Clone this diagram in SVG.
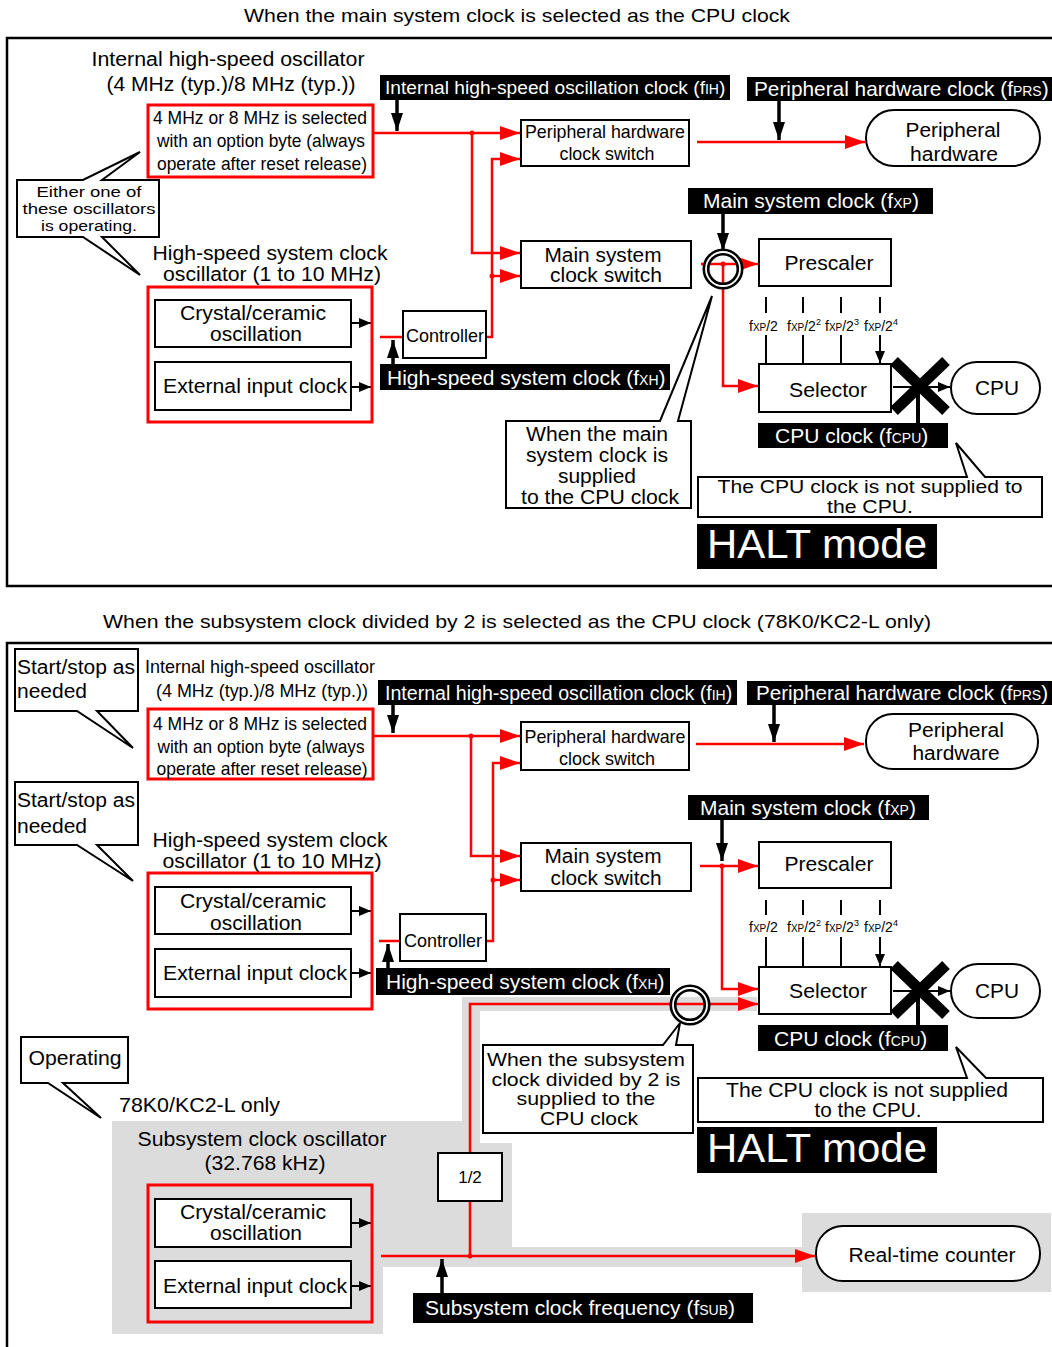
<svg xmlns="http://www.w3.org/2000/svg" width="1052" height="1347" viewBox="0 0 1052 1347">
<style>
text{font-family:"Liberation Sans",Arial,Helvetica,sans-serif;fill:#000}
.m{text-anchor:middle}
.f20{font-size:20px}
.f19{font-size:19px}
.f16{font-size:15.5px}
.w{fill:#fff}
.frame{fill:none;stroke:#000;stroke-width:2.5}
.box{fill:#fff;stroke:#000;stroke-width:2}
.rbox{fill:none;stroke:#f00;stroke-width:3}
.tag{fill:#000}
.wire{fill:none;stroke:#f00;stroke-width:2.5}
.arr{marker-end:url(#ra)}
.kline{fill:none;stroke:#000;stroke-width:3.5;marker-end:url(#ka)}
.sline{fill:none;stroke:#000;stroke-width:2;marker-end:url(#sa)}
.tick{stroke:#000;stroke-width:2}
.call{fill:#fff;stroke:#000;stroke-width:2}
.dot{fill:#f00}
.ring{fill:none;stroke:#000;stroke-width:7}
.gap{fill:none;stroke:#fff;stroke-width:1.8}
.cross{stroke:#000;stroke-width:11}
.gray{fill:#dcdcdc}
.sub{font-size:14px}
.fx{font-size:14px}
.fxs{font-size:10px}
.sup{font-size:9px}
</style>
<defs>
<marker id="ra" markerUnits="userSpaceOnUse" markerWidth="20" markerHeight="14" refX="20" refY="7" orient="auto"><path d="M0,0 L20,7 L0,14 Z" fill="#f00"/></marker>
<marker id="ka" markerUnits="userSpaceOnUse" markerWidth="18" markerHeight="12" refX="18" refY="6" orient="auto"><path d="M0,0 L18,6 L0,12 Z" fill="#000"/></marker>
<marker id="sa" markerUnits="userSpaceOnUse" markerWidth="12" markerHeight="10" refX="12" refY="5" orient="auto"><path d="M0,0 L12,5 L0,10 Z" fill="#000"/></marker>
</defs>

<!-- shaded subsystem clock path -->
<path class="gray" d="M112,1121 H462 V997 H757 V1011 H480 V1143 H512 V1247 H802 V1213 H1051 V1292 H802 V1267 H383 V1334 H112 Z"/>

<!-- panel frames and titles -->
<g id="panel-main">
<path class="frame" d="M1056,38 H7 V586 H1056"/>
<text class="m f19" x="517" y="22" textLength="546" lengthAdjust="spacingAndGlyphs">When the main system clock is selected as the CPU clock</text>
</g>
<g id="panel-sub">
<path class="frame" d="M1056,643 H7 V1350"/>
<text class="m f19" x="517" y="628" textLength="828" lengthAdjust="spacingAndGlyphs">When the subsystem clock divided by 2 is selected as the CPU clock (78K0/KC2-L only)</text>
</g>

<g id="connectors">
<!-- main panel -->
<path class="wire arr" d="M373,133 H520"/>
<path class="wire arr" d="M472,133 V253 H520"/>
<path class="wire arr" d="M486,337 H492 V159 H520"/>
<path class="wire arr" d="M492,276 H520"/>
<path class="wire" d="M380,337 H403"/>
<path class="wire arr" d="M697,142 H865"/>
<path class="wire arr" d="M701,264 H758"/>
<path class="wire arr" d="M723,264 V386 H758"/>
<circle class="dot" cx="472" cy="133" r="2.5"/>
<circle class="dot" cx="492" cy="276" r="2.5"/>
<circle class="dot" cx="723" cy="264" r="2.5"/>
<path class="kline" d="M397,100 V131"/>
<path class="kline" d="M779,101 V140"/>
<path class="kline" d="M723,214 V251"/>
<path class="kline" d="M393,364 V340"/>
<path class="sline" d="M351,323 H371"/>
<path class="sline" d="M351,387 H371"/>
<path class="tick" d="M766,297 V313 M803,297 V313 M841,297 V313 M880,297 V313"/>
<path class="sline" d="M766,335 V363 M803,335 V363 M841,335 V363 M880,335 V363"/>
<path class="sline" d="M893,387 H950"/>
<path stroke="#000" stroke-width="4" d="M918,423 V387"/>
<circle class="ring" cx="723" cy="269" r="17"/>
<circle class="gap" cx="723" cy="269" r="17"/>
<path class="cross" d="M894,361 L946,411 M946,361 L894,411"/>

<!-- subsystem panel -->
<path class="wire arr" d="M373,736 H520"/>
<path class="wire arr" d="M471,736 V856 H520"/>
<path class="wire arr" d="M486,941 H493 V763 H520"/>
<path class="wire arr" d="M493,880 H520"/>
<path class="wire" d="M379,941 H400"/>
<path class="wire arr" d="M696,744 H864"/>
<path class="wire arr" d="M700,866 H758"/>
<path class="wire arr" d="M722,866 V989 H758"/>
<path class="wire arr" d="M470,1256 V1004 H758"/>
<path class="wire arr" d="M381,1256 H815"/>
<circle class="dot" cx="471" cy="736" r="2.5"/>
<circle class="dot" cx="493" cy="880" r="2.5"/>
<circle class="dot" cx="722" cy="866" r="2.5"/>
<circle class="dot" cx="470" cy="1256" r="2.5"/>
<path class="kline" d="M393,705 V733"/>
<path class="kline" d="M774,705 V742"/>
<path class="kline" d="M722,820 V861"/>
<path class="kline" d="M388,968 V944"/>
<path class="kline" d="M442,1293 V1259"/>
<path class="sline" d="M351,911 H371"/>
<path class="sline" d="M351,973 H371"/>
<path class="sline" d="M351,1223 H371"/>
<path class="sline" d="M351,1286 H371"/>
<path class="tick" d="M766,900 V915 M803,900 V915 M841,900 V915 M880,900 V915"/>
<path class="sline" d="M766,937 V966 M803,937 V966 M841,937 V966 M880,937 V966"/>
<path class="sline" d="M893,991 H950"/>
<path stroke="#000" stroke-width="4" d="M918,1026 V991"/>
<circle class="ring" cx="690" cy="1005" r="17"/>
<circle class="gap" cx="690" cy="1005" r="17"/>
<path class="cross" d="M894,965 L946,1015 M946,965 L894,1015"/>
</g>

<!-- ===== main system clock panel ===== -->
<g id="ih-osc-main">
<text class="m f20" x="228" y="66" textLength="273" lengthAdjust="spacingAndGlyphs">Internal high-speed oscillator</text>
<text class="m f20" x="231" y="91" textLength="249" lengthAdjust="spacingAndGlyphs">(4 MHz (typ.)/8 MHz (typ.))</text>
<rect class="rbox" x="148" y="105" width="225" height="72"/>
<text class="m f19" x="260" y="124" textLength="214" lengthAdjust="spacingAndGlyphs">4 MHz or 8 MHz is selected</text>
<text class="m f19" x="261" y="147" textLength="208" lengthAdjust="spacingAndGlyphs">with an option byte (always</text>
<text class="m f19" x="262" y="170" textLength="210" lengthAdjust="spacingAndGlyphs">operate after reset release)</text>
</g>
<g id="note-either">
<path class="call" d="M17,180 H83 L140,152 L102,180 H159 V237 H102 L140,275 L83,237 H17 Z"/>
<text class="m f16" x="89" y="197" textLength="105" lengthAdjust="spacingAndGlyphs">Either one of</text>
<text class="m f16" x="89" y="214" textLength="133" lengthAdjust="spacingAndGlyphs">these oscillators</text>
<text class="m f16" x="89" y="231" textLength="96" lengthAdjust="spacingAndGlyphs">is operating.</text>
</g>
<g id="hs-osc-main">
<text class="m f20" x="270" y="260" textLength="235" lengthAdjust="spacingAndGlyphs">High-speed system clock</text>
<text class="m f20" x="272" y="281" textLength="218" lengthAdjust="spacingAndGlyphs">oscillator (1 to 10 MHz)</text>
<rect class="rbox" x="148" y="287" width="224" height="135"/>
<rect class="box" x="155" y="300" width="196" height="47"/>
<text class="m f20" x="253" y="320" textLength="146" lengthAdjust="spacingAndGlyphs">Crystal/ceramic</text>
<text class="m f20" x="256" y="341" textLength="92" lengthAdjust="spacingAndGlyphs">oscillation</text>
<rect class="box" x="155" y="362" width="196" height="48"/>
<text class="m f20" x="255" y="393" textLength="184" lengthAdjust="spacingAndGlyphs">External input clock</text>
</g>
<g id="controller-main">
<rect class="box" x="403" y="311" width="83" height="47"/>
<text class="m f19" x="445" y="342" textLength="78" lengthAdjust="spacingAndGlyphs">Controller</text>
</g>
<g id="tag-fxh-main">
<rect class="tag" x="380" y="364" width="290" height="26"/>
<text class="w" font-size="21" x="387" y="385">High-speed system clock (f<tspan class="sub">XH</tspan>)</text>
</g>
<g id="tag-fih-main">
<rect class="tag" x="380" y="75" width="350" height="25"/>
<text class="w" font-size="19.2" x="385" y="94">Internal high-speed oscillation clock (f<tspan class="sub">IH</tspan>)</text>
</g>
<g id="phcs-main">
<rect class="box" x="521" y="120" width="168" height="46"/>
<text class="m f19" x="605" y="138" textLength="160" lengthAdjust="spacingAndGlyphs">Peripheral hardware</text>
<text class="m f19" x="607" y="160" textLength="95" lengthAdjust="spacingAndGlyphs">clock switch</text>
</g>
<g id="mscs-main">
<rect class="box" x="521" y="241" width="170" height="47"/>
<text class="m f20" x="603" y="262" textLength="117" lengthAdjust="spacingAndGlyphs">Main system</text>
<text class="m f20" x="606" y="282" textLength="112" lengthAdjust="spacingAndGlyphs">clock switch</text>
</g>
<g id="tag-fprs-main">
<rect class="tag" x="747" y="77" width="310" height="24"/>
<text class="w" font-size="20.8" x="754" y="96">Peripheral hardware clock (f<tspan class="sub">PRS</tspan>)</text>
</g>
<g id="periph-main">
<rect class="box" x="866" y="110" width="174" height="56" rx="28"/>
<text class="m f20" x="953" y="137" textLength="95" lengthAdjust="spacingAndGlyphs">Peripheral</text>
<text class="m f20" x="954" y="161" textLength="88" lengthAdjust="spacingAndGlyphs">hardware</text>
</g>
<g id="tag-fxp-main">
<rect class="tag" x="688" y="188" width="245" height="26"/>
<text class="w" font-size="21" x="703" y="208">Main system clock (f<tspan class="sub">XP</tspan>)</text>
</g>
<g id="prescaler-main">
<rect class="box" x="759" y="239" width="132" height="47"/>
<text class="m f20" x="829" y="270" textLength="89" lengthAdjust="spacingAndGlyphs">Prescaler</text>
<text class="fx" x="749" y="331">f<tspan class="fxs">XP</tspan>/2</text>
<text class="fx" x="787" y="331">f<tspan class="fxs">XP</tspan>/2<tspan class="sup" dy="-6">2</tspan></text>
<text class="fx" x="825" y="331">f<tspan class="fxs">XP</tspan>/2<tspan class="sup" dy="-6">3</tspan></text>
<text class="fx" x="864" y="331">f<tspan class="fxs">XP</tspan>/2<tspan class="sup" dy="-6">4</tspan></text>
</g>
<g id="selector-main">
<rect class="box" x="759" y="364" width="132" height="48"/>
<text class="m f20" x="828" y="397" textLength="78" lengthAdjust="spacingAndGlyphs">Selector</text>
</g>
<g id="cpu-main">
<rect class="box" x="951" y="362" width="89" height="52" rx="26"/>
<text class="m f20" x="997" y="395" textLength="44" lengthAdjust="spacingAndGlyphs">CPU</text>
</g>
<g id="tag-fcpu-main">
<rect class="tag" x="758" y="423" width="190" height="25"/>
<text class="w" font-size="21" x="775" y="443">CPU clock (f<tspan class="sub">CPU</tspan>)</text>
</g>
<g id="note-cpu-main">
<path class="call" d="M698,477 H967 L956,443 L985,477 H1042 V517 H698 Z"/>
<text class="m f19" x="870" y="493" textLength="305" lengthAdjust="spacingAndGlyphs">The CPU clock is not supplied to</text>
<text class="m f19" x="870" y="513" textLength="86" lengthAdjust="spacingAndGlyphs">the CPU.</text>
</g>
<g id="halt-main">
<rect class="tag" x="697" y="524" width="240" height="45"/>
<text class="w" font-size="41" x="707" y="558" textLength="220" lengthAdjust="spacingAndGlyphs">HALT mode</text>
</g>
<g id="note-main-clock">
<path class="call" d="M506,421 H660 L712,296 L678,421 H691 V508 H506 Z"/>
<text class="m f20" x="597" y="441" textLength="142" lengthAdjust="spacingAndGlyphs">When the main</text>
<text class="m f20" x="597" y="462" textLength="142" lengthAdjust="spacingAndGlyphs">system clock is</text>
<text class="m f20" x="597" y="483" textLength="78" lengthAdjust="spacingAndGlyphs">supplied</text>
<text class="m f20" x="600" y="504" textLength="158" lengthAdjust="spacingAndGlyphs">to the CPU clock</text>
</g>

<!-- ===== subsystem clock panel ===== -->
<g id="note-startstop-1">
<path class="call" d="M15,649 H138 V711 H97 L133,748 L77,711 H15 Z"/>
<text class="f20" x="17" y="674" textLength="118" lengthAdjust="spacingAndGlyphs">Start/stop as</text>
<text class="f20" x="17" y="698" textLength="70" lengthAdjust="spacingAndGlyphs">needed</text>
</g>
<g id="note-startstop-2">
<path class="call" d="M15,782 H138 V845 H97 L133,881 L77,845 H15 Z"/>
<text class="f20" x="17" y="807" textLength="118" lengthAdjust="spacingAndGlyphs">Start/stop as</text>
<text class="f20" x="17" y="833" textLength="70" lengthAdjust="spacingAndGlyphs">needed</text>
</g>
<g id="ih-osc-sub">
<text class="m f19" x="260" y="673" textLength="230" lengthAdjust="spacingAndGlyphs">Internal high-speed oscillator</text>
<text class="m f19" x="262" y="697" textLength="212" lengthAdjust="spacingAndGlyphs">(4 MHz (typ.)/8 MHz (typ.))</text>
<rect class="rbox" x="148" y="709" width="225" height="70"/>
<text class="m f19" x="260" y="730" textLength="214" lengthAdjust="spacingAndGlyphs">4 MHz or 8 MHz is selected</text>
<text class="m f19" x="261" y="753" textLength="207" lengthAdjust="spacingAndGlyphs">with an option byte (always</text>
<text class="m f19" x="262" y="775" textLength="211" lengthAdjust="spacingAndGlyphs">operate after reset release)</text>
</g>
<g id="hs-osc-sub">
<text class="m f20" x="270" y="847" textLength="235" lengthAdjust="spacingAndGlyphs">High-speed system clock</text>
<text class="m f20" x="272" y="868" textLength="219" lengthAdjust="spacingAndGlyphs">oscillator (1 to 10 MHz)</text>
<rect class="rbox" x="148" y="873" width="224" height="136"/>
<rect class="box" x="155" y="887" width="196" height="47"/>
<text class="m f20" x="253" y="908" textLength="146" lengthAdjust="spacingAndGlyphs">Crystal/ceramic</text>
<text class="m f20" x="256" y="930" textLength="92" lengthAdjust="spacingAndGlyphs">oscillation</text>
<rect class="box" x="155" y="949" width="196" height="48"/>
<text class="m f20" x="255" y="980" textLength="184" lengthAdjust="spacingAndGlyphs">External input clock</text>
</g>
<g id="controller-sub">
<rect class="box" x="400" y="914" width="86" height="47"/>
<text class="m f19" x="443" y="947" textLength="78" lengthAdjust="spacingAndGlyphs">Controller</text>
</g>
<g id="tag-fxh-sub">
<rect class="tag" x="376" y="968" width="294" height="27"/>
<text class="w" font-size="21" x="386" y="989">High-speed system clock (f<tspan class="sub">XH</tspan>)</text>
</g>
<g id="tag-fih-sub">
<rect class="tag" x="378" y="680" width="359" height="25"/>
<text class="w" font-size="19.6" x="385" y="700">Internal high-speed oscillation clock (f<tspan class="sub">IH</tspan>)</text>
</g>
<g id="phcs-sub">
<rect class="box" x="521" y="722" width="168" height="48"/>
<text class="m f19" x="605" y="743" textLength="161" lengthAdjust="spacingAndGlyphs">Peripheral hardware</text>
<text class="m f19" x="607" y="765" textLength="96" lengthAdjust="spacingAndGlyphs">clock switch</text>
</g>
<g id="mscs-sub">
<rect class="box" x="521" y="843" width="170" height="48"/>
<text class="m f20" x="603" y="863" textLength="117" lengthAdjust="spacingAndGlyphs">Main system</text>
<text class="m f20" x="606" y="885" textLength="111" lengthAdjust="spacingAndGlyphs">clock switch</text>
</g>
<g id="tag-fprs-sub">
<rect class="tag" x="747" y="681" width="310" height="24"/>
<text class="w" font-size="20.6" x="756" y="700">Peripheral hardware clock (f<tspan class="sub">PRS</tspan>)</text>
</g>
<g id="periph-sub">
<rect class="box" x="866" y="714" width="172" height="55" rx="27"/>
<text class="m f20" x="956" y="737" textLength="96" lengthAdjust="spacingAndGlyphs">Peripheral</text>
<text class="m f20" x="956" y="760" textLength="87" lengthAdjust="spacingAndGlyphs">hardware</text>
</g>
<g id="tag-fxp-sub">
<rect class="tag" x="688" y="795" width="241" height="25"/>
<text class="w" font-size="21" x="700" y="815">Main system clock (f<tspan class="sub">XP</tspan>)</text>
</g>
<g id="prescaler-sub">
<rect class="box" x="759" y="842" width="132" height="46"/>
<text class="m f20" x="829" y="871" textLength="89" lengthAdjust="spacingAndGlyphs">Prescaler</text>
<text class="fx" x="749" y="932">f<tspan class="fxs">XP</tspan>/2</text>
<text class="fx" x="787" y="932">f<tspan class="fxs">XP</tspan>/2<tspan class="sup" dy="-6">2</tspan></text>
<text class="fx" x="825" y="932">f<tspan class="fxs">XP</tspan>/2<tspan class="sup" dy="-6">3</tspan></text>
<text class="fx" x="864" y="932">f<tspan class="fxs">XP</tspan>/2<tspan class="sup" dy="-6">4</tspan></text>
</g>
<g id="selector-sub">
<rect class="box" x="759" y="967" width="132" height="47"/>
<text class="m f20" x="828" y="998" textLength="78" lengthAdjust="spacingAndGlyphs">Selector</text>
</g>
<g id="cpu-sub">
<rect class="box" x="951" y="964" width="89" height="54" rx="27"/>
<text class="m f20" x="997" y="998" textLength="44" lengthAdjust="spacingAndGlyphs">CPU</text>
</g>
<g id="tag-fcpu-sub">
<rect class="tag" x="758" y="1025" width="190" height="26"/>
<text class="w" font-size="21" x="774" y="1046">CPU clock (f<tspan class="sub">CPU</tspan>)</text>
</g>
<g id="note-cpu-sub">
<path class="call" d="M698,1078 H967 L956,1047 L986,1078 H1043 V1122 H698 Z"/>
<text class="m f20" x="867" y="1097" textLength="282" lengthAdjust="spacingAndGlyphs">The CPU clock is not supplied</text>
<text class="m f20" x="868" y="1117" textLength="107" lengthAdjust="spacingAndGlyphs">to the CPU.</text>
</g>
<g id="halt-sub">
<rect class="tag" x="697" y="1127" width="240" height="46"/>
<text class="w" font-size="41" x="707" y="1162" textLength="220" lengthAdjust="spacingAndGlyphs">HALT mode</text>
</g>
<g id="note-sub-clock">
<path class="call" d="M483,1045 H663 L680,1023 L676,1045 H693 V1133 H483 Z"/>
<text class="m f19" x="586" y="1066" textLength="198" lengthAdjust="spacingAndGlyphs">When the subsystem</text>
<text class="m f19" x="586" y="1086" textLength="189" lengthAdjust="spacingAndGlyphs">clock divided by 2 is</text>
<text class="m f19" x="586" y="1105" textLength="139" lengthAdjust="spacingAndGlyphs">supplied to the</text>
<text class="m f19" x="589" y="1125" textLength="98" lengthAdjust="spacingAndGlyphs">CPU clock</text>
</g>
<g id="div2">
<rect class="box" x="438" y="1153" width="64" height="48"/>
<text class="m" font-size="17" x="470" y="1183">1/2</text>
</g>
<g id="note-operating">
<path class="call" d="M21,1037 H128 V1083 H63 L101,1118 L48,1083 H21 Z"/>
<text class="m f20" x="75" y="1065" textLength="93" lengthAdjust="spacingAndGlyphs">Operating</text>
</g>
<g id="sub-osc">
<text class="f20" x="119" y="1112" textLength="161" lengthAdjust="spacingAndGlyphs">78K0/KC2-L only</text>
<text class="m f20" x="262" y="1146" textLength="249" lengthAdjust="spacingAndGlyphs">Subsystem clock oscillator</text>
<text class="m f20" x="265" y="1170" textLength="121" lengthAdjust="spacingAndGlyphs">(32.768 kHz)</text>
<rect class="rbox" x="148" y="1185" width="224" height="137"/>
<rect class="box" x="155" y="1199" width="196" height="48"/>
<text class="m f20" x="253" y="1219" textLength="146" lengthAdjust="spacingAndGlyphs">Crystal/ceramic</text>
<text class="m f20" x="256" y="1240" textLength="92" lengthAdjust="spacingAndGlyphs">oscillation</text>
<rect class="box" x="155" y="1261" width="196" height="47"/>
<text class="m f20" x="255" y="1293" textLength="184" lengthAdjust="spacingAndGlyphs">External input clock</text>
</g>
<g id="tag-fsub">
<rect class="tag" x="413" y="1293" width="340" height="30"/>
<text class="w" font-size="21" x="425" y="1315">Subsystem clock frequency (f<tspan class="sub">SUB</tspan>)</text>
</g>
<g id="rtc">
<rect class="box" x="816" y="1226" width="224" height="55" rx="27"/>
<text class="m f20" x="932" y="1262" textLength="167" lengthAdjust="spacingAndGlyphs">Real-time counter</text>
</g>
</svg>
